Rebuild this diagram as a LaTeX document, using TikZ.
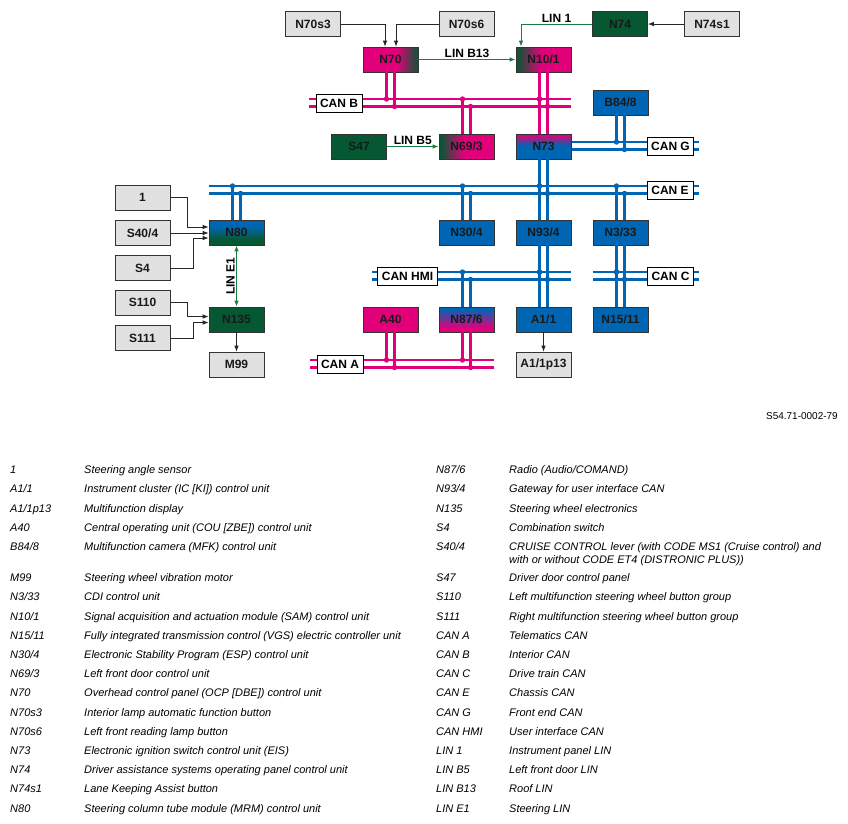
\documentclass[tikz,border=0pt]{standalone}
\usepackage{fontspec}
\setmainfont{Liberation Sans}
\usetikzlibrary{arrows.meta}

\definecolor{canblue}{RGB}{0,101,179}
\definecolor{canmag}{RGB}{226,0,122}
\definecolor{ecugreen}{RGB}{6,88,50}
\definecolor{lingreen}{RGB}{22,128,62}
\definecolor{boxgray}{RGB}{225,225,225}

% box gradients (middle 25bp..75bp fills the box)
\pgfdeclarehorizontalshading{magtogreen}{100bp}{color(0bp)=(canmag); color(56bp)=(canmag); color(75bp)=(ecugreen); color(100bp)=(ecugreen)}
\pgfdeclarehorizontalshading{greentomag}{100bp}{color(0bp)=(ecugreen); color(26bp)=(ecugreen); color(48bp)=(canmag); color(100bp)=(canmag)}
\pgfdeclareverticalshading{magtoblue}{100bp}{color(0bp)=(canblue); color(52bp)=(canblue); color(73bp)=(canmag); color(100bp)=(canmag)}
\pgfdeclareverticalshading{bluetogreen}{100bp}{color(0bp)=(ecugreen); color(36bp)=(ecugreen); color(62bp)=(canblue); color(100bp)=(canblue)}
\pgfdeclareverticalshading{bluetomag}{100bp}{color(0bp)=(canmag); color(33bp)=(canmag); color(71bp)=(canblue); color(100bp)=(canblue)}

\begin{document}
\begin{tikzpicture}[x=1pt, y=-1pt,
  >={Latex[length=6pt,width=4.5pt]},
  box/.style={draw=black!80, line width=0.7pt, minimum width=55pt, minimum height=25pt,
    inner sep=0pt, font=\bfseries\fontsize{12}{14}\selectfont, text=black!90},
  graybox/.style={box, fill=boxgray},
  greenbox/.style={box, fill=ecugreen},
  bluebox/.style={box, fill=canblue},
  magbox/.style={box, fill=canmag},
  mixbox/.style={box, shade, shading=#1},
  canlabel/.style={draw=black, fill=white, line width=0.9pt, minimum width=46pt,
    minimum height=18pt, inner xsep=4pt, inner ysep=0pt, font=\bfseries\fontsize{12}{14}\selectfont},
  bus/.style={draw=#1, line width=2.2pt},
  feed/.style={draw=black!85, line width=0.8pt, ->},
  lin/.style={draw=lingreen, line width=0.9pt, ->},
  linlabel/.style={font=\bfseries\fontsize{12}{14}\selectfont, inner sep=1.5pt},
  legend/.style={anchor=base west, inner sep=0pt, font=\itshape\fontsize{11}{13}\selectfont}
]

\fill[white] (0,0) rectangle (848,823);
\useasboundingbox (0,0) rectangle (848,823);

% draw CAN buses (two wires each)
\foreach \bs/\xa/\xb/\y/\col in {canB/309/571/99/canmag, canG/571/699/142/canblue,
    canE/209/699/186/canblue, canHMI/372/571/272/canblue, canC/593/699/272/canblue,
    canA/310/494/360/canmag}{
  \coordinate (\bs1) at (\xa,\y);
  \coordinate (\bs2) at (\xa,\y+7.5);
  \draw[bus=\col] (\bs1) -- (\xb,\y);
  \draw[bus=\col] (\bs2) -- (\xb,\y+7.5);
}

% bus labels
\node[canlabel] (labB) at (339,103) {CAN B};
\node[canlabel] (labG) at (670.5,146.5) {CAN G};
\node[canlabel] (labE) at (670,190.5) {CAN E};
\node[canlabel] (labHMI) at (407.5,276) {CAN HMI};
\node[canlabel] (labC) at (670.5,276) {CAN C};
\node[canlabel] (labA) at (340,364) {CAN A};

% control units
\node[graybox] (n70s3) at (313,24) {N70s3};
\node[graybox] (n70s6) at (466.5,24) {N70s6};
\node[greenbox] (n74) at (620,24) {N74};
\node[graybox] (n74s1) at (712,24) {N74s1};
\node[mixbox=magtogreen] (n70) at (390.5,59.5) {N70};
\node[mixbox=greentomag] (n101) at (543.5,59.5) {N10/1};
\node[bluebox] (b848) at (620.5,102.5) {B84/8};
\node[greenbox] (s47) at (359,146.5) {S47};
\node[mixbox=greentomag] (n693) at (466.5,146.5) {N69/3};
\node[mixbox=magtoblue] (n73) at (543.5,146.5) {N73};
\node[graybox] (s1) at (142.5,197.5) {1};
\node[graybox] (s404) at (142.5,233) {S40/4};
\node[graybox] (s4) at (142.5,268) {S4};
\node[graybox] (s110) at (142.5,302.5) {S110};
\node[graybox] (s111) at (142.5,338) {S111};
\node[mixbox=bluetogreen] (n80) at (236.5,232.5) {N80};
\node[bluebox] (n304) at (466.5,232.5) {N30/4};
\node[bluebox] (n934) at (543.5,232.5) {N93/4};
\node[bluebox] (n333) at (620.5,232.5) {N3/33};
\node[greenbox] (n135) at (236.5,319.5) {N135};
\node[magbox] (a40) at (390.5,319.5) {A40};
\node[mixbox=bluetomag] (n876) at (466.5,319.5) {N87/6};
\node[bluebox] (a11) at (543.5,319.5) {A1/1};
\node[bluebox] (n1511) at (620.5,319.5) {N15/11};
\node[graybox] (m99) at (236.5,364.5) {M99};
\node[graybox] (a11p13) at (543.5,364.5) {A1/1p13};

% wires from units to the buses, with junction dots
\foreach \nd/\an/\bs/\col in {n70/south/canB/canmag, n101/south/canB/canmag,
    n693/north/canB/canmag, n73/north/canB/canmag, b848/south/canG/canblue,
    n73/south/canE/canblue, n80/north/canE/canblue, n304/north/canE/canblue,
    n934/north/canE/canblue, n333/north/canE/canblue, n934/south/canHMI/canblue,
    n876/north/canHMI/canblue, a11/north/canHMI/canblue, n333/south/canC/canblue,
    n1511/north/canC/canblue, a40/south/canA/canmag, n876/south/canA/canmag}{
  \draw[bus=\col] ([xshift=-4pt]\nd.\an) -- ([xshift=-4pt]\nd.\an |- \bs1);
  \draw[bus=\col] ([xshift=4pt]\nd.\an) -- ([xshift=4pt]\nd.\an |- \bs2);
  \fill[\col] ([xshift=-4pt]\nd.\an |- \bs1) circle (2.7pt);
  \fill[\col] ([xshift=4pt]\nd.\an |- \bs2) circle (2.7pt);
}

% discrete inputs
\draw[feed] (n70s3.east) -| ([xshift=-5.5pt]n70.north);
\draw[feed] (n70s6.west) -| ([xshift=5.5pt]n70.north);
\draw[feed] (n74s1) -- (n74);
\draw[feed] (s1.east) -- ++(17,0) |- ([yshift=5.5pt]n80.west);
\draw[feed] (s404.east) -- (s404.east -| n80.west);
\draw[feed] (s4.east) -- ++(23,0) |- ([yshift=-5.5pt]n80.west);
\draw[feed] (s110.east) -- ++(17,0) |- ([yshift=3pt]n135.west);
\draw[feed] (s111.east) -- ++(23,0) |- ([yshift=-3pt]n135.west);
\draw[feed] (n135) -- (m99);
\draw[feed] (a11) -- (a11p13);

% LIN connections
\draw[lin] (n74.west) -| node[pos=0.25, above, linlabel] {LIN 1} ([xshift=-22.5pt]n101.north);
\draw[lin] (n70) -- node[above, linlabel] {LIN B13} (n101);
\draw[lin] (s47) -- node[above, linlabel] {LIN B5} (n693);
\draw[lin, <->] (n135.north) -- node[midway, sloped, above, linlabel] {LIN E1} (n80.south);

\node[anchor=east, inner sep=0pt, font=\fontsize{10}{12}\selectfont] (docno) at (838,416) {S54.71-0002-79};

% legend
\foreach \y/\k/\d in {473/{1}/{Steering angle sensor},
    492/{A1/1}/{Instrument cluster (IC [KI]) control unit},
    512/{A1/1p13}/{Multifunction display},
    531/{A40}/{Central operating unit (COU [ZBE]) control unit},
    550/{B84/8}/{Multifunction camera (MFK) control unit},
    581/{M99}/{Steering wheel vibration motor},
    600/{N3/33}/{CDI control unit},
    620/{N10/1}/{Signal acquisition and actuation module (SAM) control unit},
    639/{N15/11}/{Fully integrated transmission control (VGS) electric controller unit},
    658/{N30/4}/{Electronic Stability Program (ESP) control unit},
    677/{N69/3}/{Left front door control unit},
    696/{N70}/{Overhead control panel (OCP [DBE]) control unit},
    716/{N70s3}/{Interior lamp automatic function button},
    735/{N70s6}/{Left front reading lamp button},
    754/{N73}/{Electronic ignition switch control unit (EIS)},
    773/{N74}/{Driver assistance systems operating panel control unit},
    792/{N74s1}/{Lane Keeping Assist button},
    812/{N80}/{Steering column tube module (MRM) control unit}}{
  \node[legend] (keyL\y) at (10,\y) {\k};
  \node[legend] (descL\y) at (84,\y) {\d};
}
\foreach \y/\k/\d in {473/{N87/6}/{Radio (Audio/COMAND)},
    492/{N93/4}/{Gateway for user interface CAN},
    512/{N135}/{Steering wheel electronics},
    531/{S4}/{Combination switch},
    550/{S40/4}/{CRUISE CONTROL lever (with CODE MS1 (Cruise control) and},
    581/{S47}/{Driver door control panel},
    600/{S110}/{Left multifunction steering wheel button group},
    620/{S111}/{Right multifunction steering wheel button group},
    639/{CAN A}/{Telematics CAN},
    658/{CAN B}/{Interior CAN},
    677/{CAN C}/{Drive train CAN},
    696/{CAN E}/{Chassis CAN},
    716/{CAN G}/{Front end CAN},
    735/{CAN HMI}/{User interface CAN},
    754/{LIN 1}/{Instrument panel LIN},
    773/{LIN B5}/{Left front door LIN},
    792/{LIN B13}/{Roof LIN},
    812/{LIN E1}/{Steering LIN}}{
  \node[legend] (keyR\y) at (436,\y) {\k};
  \node[legend] (descR\y) at (509,\y) {\d};
}
\node[legend] (descR563) at (509,563) {with or without CODE ET4 (DISTRONIC PLUS))};

\end{tikzpicture}
\end{document}
